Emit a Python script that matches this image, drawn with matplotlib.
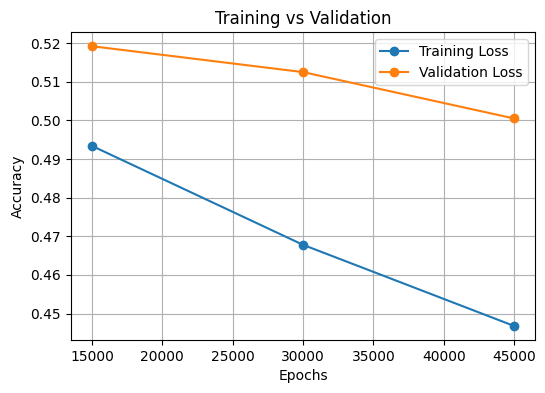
import matplotlib
matplotlib.use("Agg")
import matplotlib.pyplot as plt

# data
epochs = [15000, 30000, 45000]
train_loss = [0.4934, 0.4678, 0.4468]
val_loss = [0.5192, 0.5125, 0.5005]

fig = plt.figure(figsize=(5.45, 3.93), dpi=100)
plt.plot(epochs, train_loss, label="Training Loss", marker='o')
plt.plot(epochs, val_loss, label="Validation Loss", marker='o')
plt.xlabel("Epochs")
plt.ylabel("Accuracy")
plt.title("Training vs Validation")
plt.legend()
plt.grid()
plt.subplots_adjust(left=0.130, right=0.982, top=0.918, bottom=0.135)
plt.savefig("out.png")
